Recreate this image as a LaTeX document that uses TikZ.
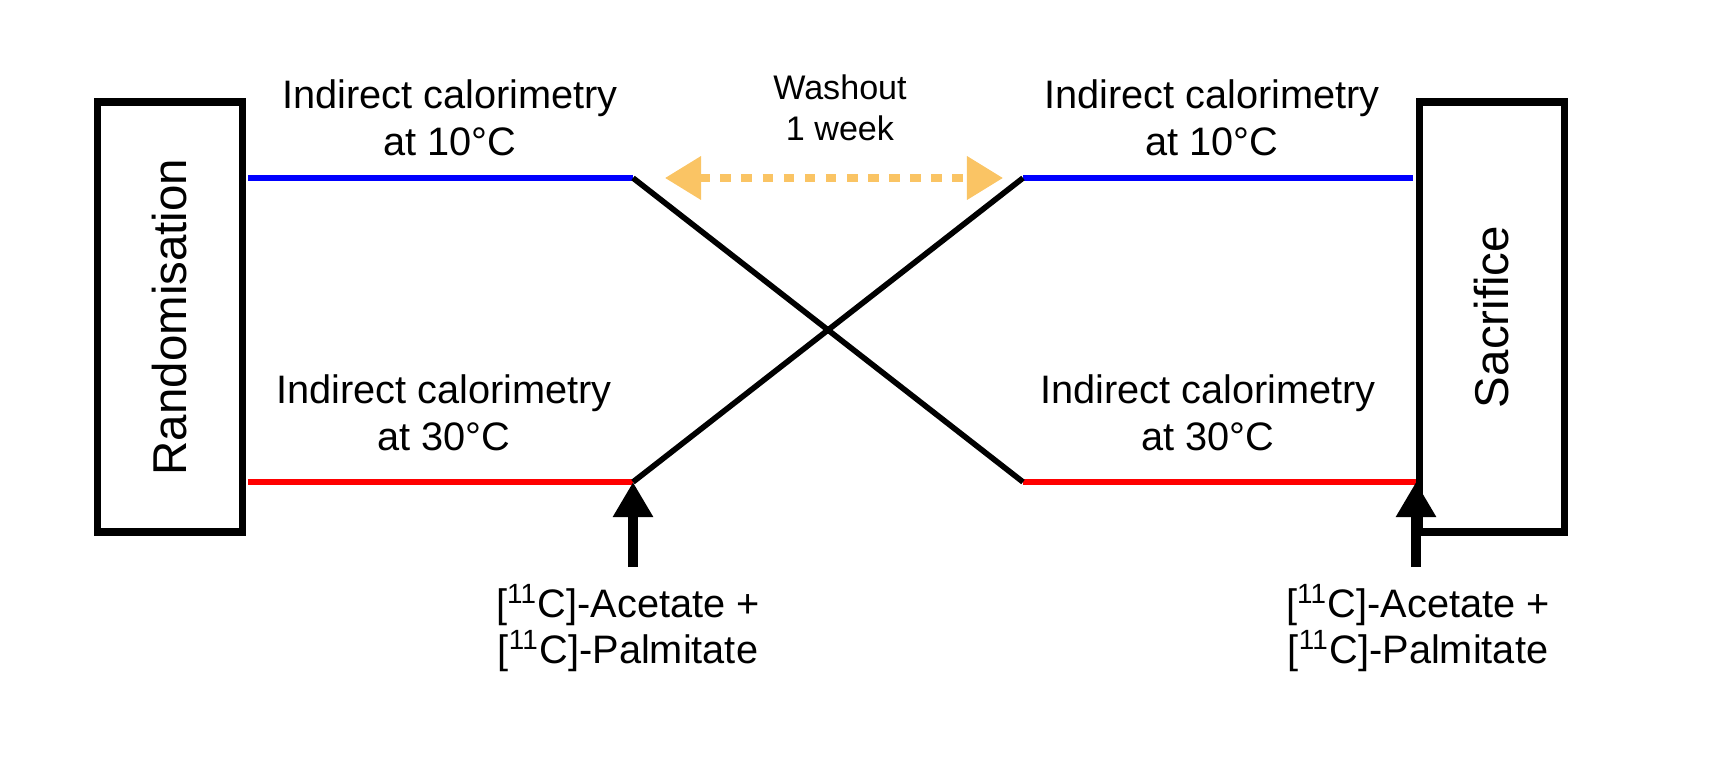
\documentclass[tikz,border=0pt]{standalone}
\usepackage{fontspec}
\setmainfont{Liberation Sans}
\usetikzlibrary{arrows.meta}
\tikzset{
  box/.style={draw,line width=2.2pt,minimum width=1.45cm,minimum height=4.3cm,inner sep=0pt},
  lbl/.style={align=center,font=\fontsize{11.3}{13.3}\selectfont},
  arm/.style={line width=1.6pt},
  inject/.style={line width=2.6pt,-{Triangle[length=0.35cm,width=0.38cm]}}
}
\newcommand{\tracer}{{[}\textsuperscript{11}C{]}-Acetate +\\{}{[}\textsuperscript{11}C{]}-Palmitate}
\begin{document}
\begin{tikzpicture}[x=0.01cm,y=-0.01cm]

% boxes
\node[box] (rand) at (170,317) {};
\node[rotate=90,font=\fontsize{13.5}{15}\selectfont] (randtxt) at (rand) {Randomisation};
\node[box] (sac) at (1492,317) {};
\node[rotate=90,font=\fontsize{13.5}{15}\selectfont] (sactxt) at (sac) {Sacrifice};

% period ends
\coordinate (la) at (248,178);  \coordinate (lb) at (633,178);
\coordinate (lc) at (248,482);  \coordinate (ld) at (633,482);
\coordinate (ra) at (1023,178); \coordinate (rb) at (1413,178);
\coordinate (rc) at (1023,482); \coordinate (rd) at (1416,482);

\draw[arm,blue] (la) -- (lb);
\draw[arm,red] (lc) -- (ld);
\draw[arm,blue] (ra) -- (rb);
\draw[arm,red] (rc) -- (rd);
\draw[arm,black] (lb) -- (rc);
\draw[arm,black] (ld) -- (ra);

% labels
\node[lbl] (t1) at (450,118) {Indirect calorimetry\\at 10°C};
\node[lbl] (t2) at (444,413) {Indirect calorimetry\\at 30°C};
\node[lbl] (t3) at (1212,118) {Indirect calorimetry\\at 10°C};
\node[lbl] (t4) at (1208,413) {Indirect calorimetry\\at 30°C};

% washout
\node[align=center,font=\fontsize{9.7}{11.7}\selectfont] (wash) at (840,108) {Washout\\1 week};
\coordinate (wa) at (665,178); \coordinate (wb) at (1003,178);
\draw[line width=2pt,dashed,color={rgb,255:red,250;green,196;blue,100},
  {Triangle[length=0.36cm,width=0.42cm]}-{Triangle[length=0.36cm,width=0.42cm]}] (wa) -- (wb);

% tracer injections
\coordinate (ia) at (633,567); \coordinate (ib) at (1416,567);
\draw[inject] (ia) -- (ld);
\draw[inject] (ib) -- (rd);
\node[lbl] (tr1) at (628,628) {\tracer};
\node[lbl] (tr2) at (1418,628) {\tracer};

\pgfresetboundingbox
\useasboundingbox (0,0) rectangle (1709,770);
\end{tikzpicture}
\end{document}
